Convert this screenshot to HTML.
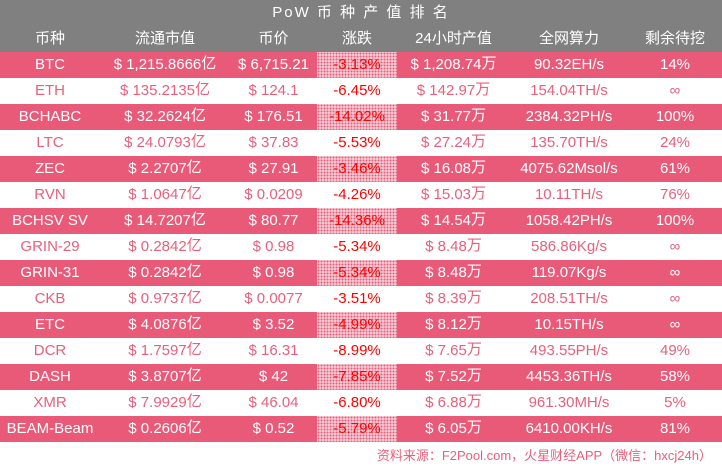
<!DOCTYPE html>
<html><head><meta charset="utf-8"><style>
body{margin:0;width:722px;height:469px;background:#fff;overflow:hidden;font-family:"Liberation Sans","Noto Sans CJK SC",sans-serif;}
table{border-collapse:collapse;width:722px;table-layout:fixed;}
td{height:26px;line-height:26px;padding:0;text-align:center;font-size:15px;white-space:nowrap;overflow:hidden;}
.t td{height:25px;line-height:25px;background:#808080;color:#fff;font-size:15px;letter-spacing:2px;}
.h td{height:27px;line-height:27px;background:#808080;color:#fff;font-size:15px;}
.p td{background:#e85a78;color:#fff;}
.w td{background:#fff;color:#e8607c;}
.p td.c{background-color:#f6c4cf;background-image:radial-gradient(#e85a78 35%,transparent 45%);background-size:3px 3px;color:#f00;}
.w td.c{color:#f00;}
i{font-style:normal;position:relative;top:-1px;}
.f{position:absolute;left:0;top:442px;width:712px;text-align:right;color:#e8607c;font-size:13px;line-height:27px;}
</style></head><body>
<table>
<colgroup><col style="width:100px"><col style="width:130px"><col style="width:87px"><col style="width:80px"><col style="width:113px"><col style="width:118px"><col style="width:94px"></colgroup>
<tr class="t"><td colspan="7">PoW 币 种 产 值 排 名</td></tr>
<tr class="h"><td>币种</td><td>流通市值</td><td>币价</td><td>涨跌</td><td>24小时产值</td><td>全网算力</td><td>剩余待挖</td></tr>
<tr class="p"><td>BTC</td><td>$ 1,215.8666<i>亿</i></td><td>$ 6,715.21</td><td class="c">-3.13%</td><td>$ 1,208.74<i>万</i></td><td>90.32EH/s</td><td>14%</td></tr>
<tr class="w"><td>ETH</td><td>$ 135.2135<i>亿</i></td><td>$ 124.1</td><td class="c">-6.45%</td><td>$ 142.97<i>万</i></td><td>154.04TH/s</td><td>∞</td></tr>
<tr class="p"><td>BCHABC</td><td>$ 32.2624<i>亿</i></td><td>$ 176.51</td><td class="c">-14.02%</td><td>$ 31.77<i>万</i></td><td>2384.32PH/s</td><td>100%</td></tr>
<tr class="w"><td>LTC</td><td>$ 24.0793<i>亿</i></td><td>$ 37.83</td><td class="c">-5.53%</td><td>$ 27.24<i>万</i></td><td>135.70TH/s</td><td>24%</td></tr>
<tr class="p"><td>ZEC</td><td>$ 2.2707<i>亿</i></td><td>$ 27.91</td><td class="c">-3.46%</td><td>$ 16.08<i>万</i></td><td>4075.62Msol/s</td><td>61%</td></tr>
<tr class="w"><td>RVN</td><td>$ 1.0647<i>亿</i></td><td>$ 0.0209</td><td class="c">-4.26%</td><td>$ 15.03<i>万</i></td><td>10.11TH/s</td><td>76%</td></tr>
<tr class="p"><td>BCHSV SV</td><td>$ 14.7207<i>亿</i></td><td>$ 80.77</td><td class="c">-14.36%</td><td>$ 14.54<i>万</i></td><td>1058.42PH/s</td><td>100%</td></tr>
<tr class="w"><td>GRIN-29</td><td>$ 0.2842<i>亿</i></td><td>$ 0.98</td><td class="c">-5.34%</td><td>$ 8.48<i>万</i></td><td>586.86Kg/s</td><td>∞</td></tr>
<tr class="p"><td>GRIN-31</td><td>$ 0.2842<i>亿</i></td><td>$ 0.98</td><td class="c">-5.34%</td><td>$ 8.48<i>万</i></td><td>119.07Kg/s</td><td>∞</td></tr>
<tr class="w"><td>CKB</td><td>$ 0.9737<i>亿</i></td><td>$ 0.0077</td><td class="c">-3.51%</td><td>$ 8.39<i>万</i></td><td>208.51TH/s</td><td>∞</td></tr>
<tr class="p"><td>ETC</td><td>$ 4.0876<i>亿</i></td><td>$ 3.52</td><td class="c">-4.99%</td><td>$ 8.12<i>万</i></td><td>10.15TH/s</td><td>∞</td></tr>
<tr class="w"><td>DCR</td><td>$ 1.7597<i>亿</i></td><td>$ 16.31</td><td class="c">-8.99%</td><td>$ 7.65<i>万</i></td><td>493.55PH/s</td><td>49%</td></tr>
<tr class="p"><td>DASH</td><td>$ 3.8707<i>亿</i></td><td>$ 42</td><td class="c">-7.85%</td><td>$ 7.52<i>万</i></td><td>4453.36TH/s</td><td>58%</td></tr>
<tr class="w"><td>XMR</td><td>$ 7.9929<i>亿</i></td><td>$ 46.04</td><td class="c">-6.80%</td><td>$ 6.88<i>万</i></td><td>961.30MH/s</td><td>5%</td></tr>
<tr class="p"><td>BEAM-Beam</td><td>$ 0.2606<i>亿</i></td><td>$ 0.52</td><td class="c">-5.79%</td><td>$ 6.05<i>万</i></td><td>6410.00KH/s</td><td>81%</td></tr>
</table>
<div class="f">资料来源：F2Pool.com，火星财经APP（微信：hxcj24h）</div>
</body></html>
